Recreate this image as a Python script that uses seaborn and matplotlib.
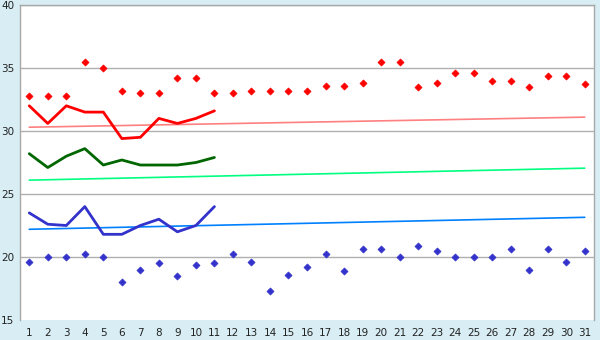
import matplotlib
matplotlib.use("Agg")
import matplotlib.pyplot as plt
import seaborn as sns
import pandas as pd
import numpy as np

days = list(range(1, 32))
red_points = [32.8, 32.8, 32.8, 35.5, 35.0, 33.2, 33.0, 33.0, 34.2, 34.2, 33.0,
              33.0, 33.2, 33.2, 33.2, 33.2, 33.6, 33.6, 33.8, 35.5, 35.5, 33.5,
              33.8, 34.6, 34.6, 34.0, 34.0, 33.5, 34.4, 34.4, 33.7]
blue_points = [19.6, 20.0, 20.0, 20.2, 20.0, 18.0, 19.0, 19.5, 18.5, 19.4, 19.5,
               20.2, 19.6, 17.3, 18.6, 19.2, 20.2, 18.9, 20.6, 20.6, 20.0, 20.9,
               20.5, 20.0, 20.0, 20.0, 20.6, 19.0, 20.6, 19.6, 20.5]
line_days = list(range(1, 12))
red_line = [32.0, 30.6, 32.0, 31.5, 31.5, 29.4, 29.5, 31.0, 30.6, 31.0, 31.6]
green_line = [28.2, 27.1, 28.0, 28.6, 27.3, 27.7, 27.3, 27.3, 27.3, 27.5, 27.9]
blue_line = [23.5, 22.6, 22.5, 24.0, 21.8, 21.8, 22.5, 23.0, 22.0, 22.5, 24.0]
trend_days = [1, 31]
red_trend = [30.3, 31.1]
green_trend = [26.1, 27.05]
blue_trend = [22.2, 23.15]
y_ticks = [15, 20, 25, 30, 35, 40]

bg = "#D8EEF4"
sns.set_style("white")
plt.rcParams['font.family'] = ['DejaVu Sans']

fig = plt.figure(figsize=(6, 3.4), dpi=100, facecolor=bg)
ax = fig.add_axes([20/600, 20/340, 574/600, 315/340])
ax.set_facecolor("white")

for yv in y_ticks[1:]:
    ax.axhline(yv, color="#B0B0B0", lw=1, zorder=0)

lines_df = pd.DataFrame({"day": line_days, "red": red_line, "green": green_line, "blue": blue_line})
trend_df = pd.DataFrame({"day": trend_days, "red": red_trend, "green": green_trend, "blue": blue_trend})
pts_df = pd.DataFrame({"day": days, "red": red_points, "blue": blue_points})

for col, c in [("red", "#FF8080"), ("green", "#00FF80"), ("blue", "#0080FF")]:
    sns.lineplot(data=trend_df, x="day", y=col, color=c, lw=1.2, ax=ax)
for col, c in [("red", "#FF0000"), ("green", "#006600"), ("blue", "#3333CC")]:
    sns.lineplot(data=lines_df, x="day", y=col, color=c, lw=2, ax=ax)
sns.scatterplot(data=pts_df, x="day", y="red", color="#FF0000", marker="D", s=13,
                edgecolor="#FF0000", linewidth=0.5, ax=ax)
sns.scatterplot(data=pts_df, x="day", y="blue", color="#3333CC", marker="D", s=13,
                edgecolor="#3333CC", linewidth=0.5, ax=ax)

ax.set_xlim(0.5, 31.5)
ax.set_ylim(15, 40)
ax.set_xticks(days)
ax.set_xticklabels([str(d) for d in days], fontsize=7.5, color="#222222")
ax.set_yticks(y_ticks)
ax.set_yticklabels([str(v) for v in y_ticks], fontsize=7.5, color="#222222")
ax.tick_params(axis="x", length=4, width=1, color="#333333", pad=2)
ax.tick_params(axis="y", length=3, width=1, color="#333333", pad=1)
ax.set_xlabel("")
ax.set_ylabel("")
for s in ["left", "right", "top"]:
    ax.spines[s].set_color("#A8A8A8")
    ax.spines[s].set_linewidth(1)
ax.spines["bottom"].set_visible(False)

fig.savefig("out.png", dpi=100, facecolor=bg)
